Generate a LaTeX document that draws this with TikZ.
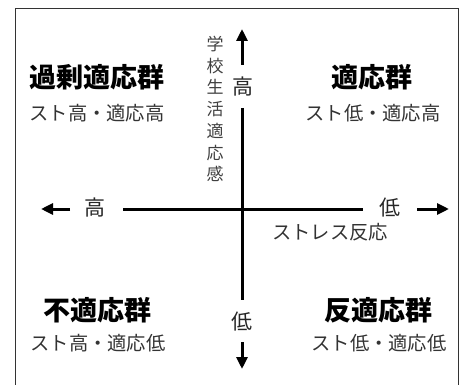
\documentclass[tikz,border=0pt]{standalone}
\usepackage{fontspec}
\setmainfont{Noto Sans CJK JP}
\usetikzlibrary{arrows.meta}
\begin{document}
\begin{tikzpicture}[x=1pt,y=-1pt,
  grp/.style={font=\fontsize{27}{30}\selectfont\bfseries, inner sep=0pt, text=black},
  sub/.style={font=\fontsize{19.3}{21}\selectfont, inner sep=0pt, text=black!80},
  axl/.style={font=\fontsize{21}{23}\selectfont, inner sep=0pt, text=black!85},
  axis/.style={line width=3pt, draw=black},
  tip/.style={axis, -{Triangle[length=12pt,width=11pt]}},
  frame/.style={line width=0.9pt, draw=black!80}]
\useasboundingbox (0,0) rectangle (466,385);
\coordinate (fbl) at (15,390);
\coordinate (ftl) at (15,8);
\coordinate (ftr) at (458,8);
\coordinate (fbr) at (458,390);
\draw[frame] (fbl) -- (ftl) -- (ftr) -- (fbr);
% vertical axis
\coordinate (vt0) at (242,65);
\coordinate (vt1) at (242,29);
\coordinate (vm0) at (242,108);
\coordinate (vm1) at (242,300);
\coordinate (vb0) at (242,342);
\coordinate (vb1) at (242,369);
\draw[tip] (vt0) -- (vt1);
\draw[axis] (vm0) -- (vm1);
\draw[tip] (vb0) -- (vb1);
% horizontal axis
\coordinate (hl0) at (70,209);
\coordinate (hl1) at (41,209);
\coordinate (hm0) at (123,209);
\coordinate (hm1) at (363,209);
\coordinate (hr0) at (417,209);
\coordinate (hr1) at (449,209);
\draw[tip] (hl0) -- (hl1);
\draw[axis] (hm0) -- (hm1);
\draw[tip] (hr0) -- (hr1);
% axis labels
\node[axl] (vhi) at (243,87) {高};
\node[axl] (vlo) at (242,322) {低};
\node[axl] (hhi) at (95,208) {高};
\node[axl] (hlo) at (390,208) {低};
\node[sub] (stress) at (330,232) {ストレス反応};
\node[font=\fontsize{17}{21.7}\selectfont, inner sep=0pt, text=black!75, align=center] (adapt) at (215,109) {学\\校\\生\\活\\適\\応\\感};
% groups
\node[grp] (g1) at (97,77) {過剰適応群};
\node[sub] (s1) at (97,113) {スト高・適応高};
\node[grp] (g2) at (372,77) {適応群};
\node[sub] (s2) at (373,113) {スト低・適応高};
\node[grp] (g3) at (97,310) {不適応群};
\node[sub] (s3) at (98,343) {スト高・適応低};
\node[grp] (g4) at (378,310) {反適応群};
\node[sub] (s4) at (379,343) {スト低・適応低};
\end{tikzpicture}
\end{document}
